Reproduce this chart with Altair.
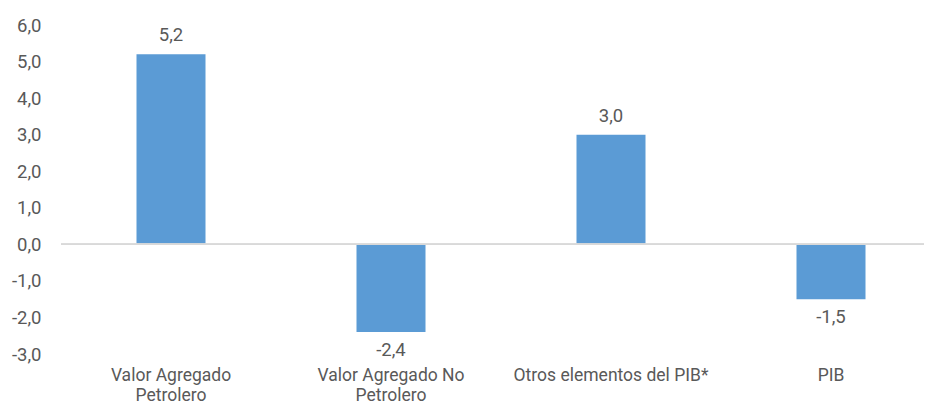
import altair as alt
import pandas as pd

categories = ["Valor Agregado|Petrolero", "Valor Agregado No|Petrolero", "Otros elementos del PIB*", "PIB"]
values = [5.2, -2.4, 3.0, -1.5]

df = pd.DataFrame({
    "cat": categories,
    "val": values,
    "lab": [f"{v:.1f}".replace(".", ",") for v in values],
    "zero": [0.0] * len(values),
})

FONT = "Roboto"
GREY = "#595959"
FS_CAT = 17.5
FS_NUM = 18.5

yaxis = alt.Axis(values=list(range(-3, 7)), domain=False, ticks=False, grid=False,
                 labelPadding=20, labelFontSize=FS_NUM, labelFont=FONT, labelColor=GREY,
                 labelOverlap=False, labelFlush=False,
                 labelExpr="datum.value < 0 ? '-' + replace(format(-datum.value, '.1f'), '.', ',') : replace(format(datum.value, '.1f'), '.', ',')")
yscale = alt.Scale(domain=[-3, 6], nice=False, zero=False)

x = alt.X("cat:N", sort=categories, title=None,
          scale=alt.Scale(paddingInner=0, paddingOuter=0, range=[0, 880]),
          axis=alt.Axis(orient="bottom", labelExpr="split(datum.label, '|')", labelAngle=0,
                        domain=False, ticks=False, labelPadding=12, labelFontSize=FS_CAT,
                        labelFont=FONT, labelColor=GREY, labelLineHeight=20,
                        labelBaseline="top", labelLimit=0))
y = alt.Y("val:Q", title=None, scale=yscale, axis=yaxis)

base = alt.Chart(df)

bars = base.mark_bar(size=69, color="#5B9BD5").encode(x=x, y=y, y2=alt.datum(0))

zero = base.mark_rule(color="#D9D9D9", strokeWidth=1.5).encode(
    y=alt.Y("zero:Q", title=None, scale=yscale, axis=yaxis))

pos = base.transform_filter("datum.val >= 0").mark_text(
    baseline="bottom", dy=-9, fontSize=FS_NUM, font=FONT, color=GREY
).encode(x=x, y=y, text="lab:N")

neg = base.transform_filter("datum.val < 0").mark_text(
    baseline="top", dy=9, fontSize=FS_NUM, font=FONT, color=GREY
).encode(x=x, y=y, text="lab:N")

chart = alt.layer(bars, zero, pos, neg).properties(
    width=863, height=329,
    autosize=alt.AutoSizeParams(type="none"),
    padding={"left": 53, "top": 17, "right": 0, "bottom": 52},
).configure_view(stroke=None)

chart.save("out.html", embed_options={"renderer": "svg", "actions": False})
